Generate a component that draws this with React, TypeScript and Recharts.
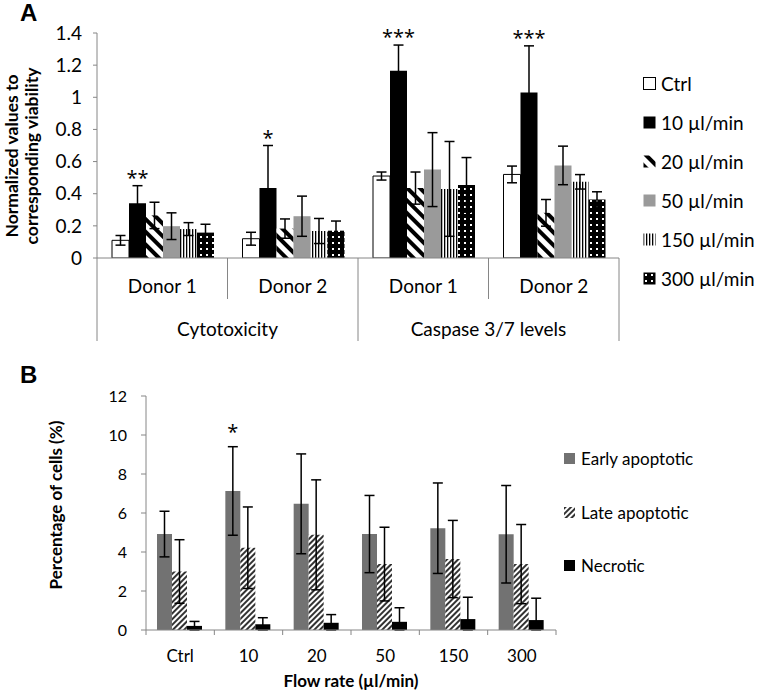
import React from 'react';
import { BarChart, Bar, XAxis, YAxis, ErrorBar, LabelList, Legend } from 'recharts';

// ---------- Panel A data ----------
const categoryKeysA = ['cyto-d1', 'cyto-d2', 'casp-d1', 'casp-d2'];
const donorLabels = ['Donor 1', 'Donor 2', 'Donor 1', 'Donor 2'];
const groupLabels = ['Cytotoxicity', 'Caspase 3/7 levels'];
const ctrlVals = [0.11, 0.12, 0.51, 0.52];
const ctrlErr = [0.03, 0.04, 0.025, 0.052];
const f10Vals = [0.34, 0.435, 1.165, 1.03];
const f10Err = [0.11, 0.265, 0.16, 0.29];
const f20Vals = [0.265, 0.183, 0.435, 0.281];
const f20Err = [0.082, 0.06, 0.1, 0.083];
const f50Vals = [0.198, 0.26, 0.55, 0.576];
const f50Err = [0.083, 0.125, 0.23, 0.12];
const f150Vals = [0.18, 0.168, 0.43, 0.474];
const f150Err = [0.04, 0.078, 0.295, 0.045];
const f300Vals = [0.158, 0.17, 0.455, 0.364];
const f300Err = [0.052, 0.06, 0.17, 0.048];
const sigA = ['**', '*', '***', '***'];
const yTicksA = [0, 0.2, 0.4, 0.6, 0.8, 1, 1.2, 1.4];

// ---------- Panel B data ----------
const flowRates = ['Ctrl', '10', '20', '50', '150', '300'];
const earlyVals = [4.92, 7.13, 6.47, 4.92, 5.22, 4.91];
const earlyErr = [1.17, 2.27, 2.56, 1.98, 2.32, 2.5];
const lateVals = [3.0, 4.22, 4.88, 3.38, 3.64, 3.38];
const lateErr = [1.63, 2.09, 2.82, 1.89, 1.98, 2.03];
const necroticVals = [0.21, 0.3, 0.37, 0.42, 0.56, 0.51];
const necroticErr = [0.23, 0.33, 0.42, 0.72, 1.12, 1.12];
const sigB = ['', '*', '', '', '', ''];
const yTicksB = [0, 2, 4, 6, 8, 10, 12];

// ---------- styles ----------
const FONT = 'Lato, "Open Sans", sans-serif';
const STAR_FONT = '"Open Sans", Lato, sans-serif';
const AXIS = '#868686';

const seriesA = [
  { key: 'ctrl', name: 'Ctrl', fill: '#ffffff', stroke: '#000000' },
  { key: 'f10', name: '10 µl/min', fill: '#000000', stroke: 'none' },
  { key: 'f20', name: '20 µl/min', fill: 'url(#patA20)', stroke: 'none' },
  { key: 'f50', name: '50 µl/min', fill: '#9a9a9a', stroke: 'none' },
  { key: 'f150', name: '150 µl/min', fill: 'url(#patA150)', stroke: 'none' },
  { key: 'f300', name: '300 µl/min', fill: 'url(#patA300)', stroke: 'none' },
];

const seriesB = [
  { key: 'early', name: 'Early apoptotic', fill: '#727272' },
  { key: 'late', name: 'Late apoptotic', fill: 'url(#patLate)' },
  { key: 'necrotic', name: 'Necrotic', fill: '#000000' },
];

// error bar [down, up], the downward part stops at the axis
const errPair = (v: number, e: number) => [Math.min(v, e), e];

const dataA = categoryKeysA.map((k, i) => ({
  key: k,
  ctrl: ctrlVals[i], ctrlErr: errPair(ctrlVals[i], ctrlErr[i]),
  f10: f10Vals[i], f10Err: errPair(f10Vals[i], f10Err[i]),
  f20: f20Vals[i], f20Err: errPair(f20Vals[i], f20Err[i]),
  f50: f50Vals[i], f50Err: errPair(f50Vals[i], f50Err[i]),
  f150: f150Vals[i], f150Err: errPair(f150Vals[i], f150Err[i]),
  f300: f300Vals[i], f300Err: errPair(f300Vals[i], f300Err[i]),
  sig: sigA[i],
}));

const dataB = flowRates.map((r, i) => ({
  rate: r,
  early: earlyVals[i], earlyErr: errPair(earlyVals[i], earlyErr[i]),
  late: lateVals[i], lateErr: errPair(lateVals[i], lateErr[i]),
  necrotic: necroticVals[i], necroticErr: errPair(necroticVals[i], necroticErr[i]),
  sig: sigB[i],
}));

// ---------- helpers ----------
const CategoryTickA = (props: any) => {
  const { x, y, index, width, visibleTicksCount } = props;
  const band = width && visibleTicksCount ? width / visibleTicksCount : 522 / donorLabels.length;
  const half = band / 2;
  const groupEnd = index % 2 === 1;
  return (
    <g>
      {index === 0 && <line x1={x - half} x2={x - half} y1={y} y2={y + 83} stroke={AXIS} strokeWidth={1} />}
      <line x1={x + half} x2={x + half} y1={y} y2={y + (groupEnd ? 83 : 41)} stroke={AXIS} strokeWidth={1} />
      <text x={x} y={y + 27} textAnchor="middle" dominantBaseline="central" fontFamily={FONT} fontSize={19} fill="#000">
        {donorLabels[index]}
      </text>
      {groupEnd && (
        <text x={x - half} y={y + 70} textAnchor="middle" dominantBaseline="central" fontFamily={FONT} fontSize={19} fill="#000">
          {groupLabels[(index - 1) / 2]}
        </text>
      )}
    </g>
  );
};

const CategoryTickB = (props: any) => {
  const { x, y, index, width, visibleTicksCount, payload } = props;
  const band = width && visibleTicksCount ? width / visibleTicksCount : 410 / flowRates.length;
  const half = band / 2;
  const last = index === (visibleTicksCount || flowRates.length) - 1;
  return (
    <g>
      <line x1={x - half} x2={x - half} y1={y} y2={y + 5} stroke={AXIS} />
      {last && <line x1={x + half} x2={x + half} y1={y} y2={y + 5} stroke={AXIS} />}
      <text x={x} y={y + 25} textAnchor="middle" dominantBaseline="central" fontFamily={FONT} fontSize={17} fill="#000">
        {payload.value}
      </text>
    </g>
  );
};

const makeSig = (vals: number[], errs: number[], lift: number) => (props: any) => {
  const vb = props.viewBox && props.viewBox.width !== undefined ? props.viewBox : props;
  const { x, y, width, height } = vb;
  const i = props.index;
  const v = props.value;
  if (!v || i === undefined) return null;
  const perUnit = height / vals[i];
  const top = y - errs[i] * perUnit;
  return (
    <text x={x + width / 2} y={top - lift} textAnchor="middle" fontFamily={STAR_FONT} fontSize={20} fill="#000">
      {v}
    </text>
  );
};

const YLabelA = () => (
  <g fontFamily={FONT} fontSize={17.5} fontWeight="bold" fill="#000">
    <text x={18} y={156} transform="rotate(-90, 18, 156)" textAnchor="middle">Normalized values to</text>
    <text x={38} y={156} transform="rotate(-90, 38, 156)" textAnchor="middle">corresponding viability</text>
  </g>
);

const YLabelB = () => (
  <text x={62} y={145} transform="rotate(-90, 62, 145)" textAnchor="middle"
    fontFamily={FONT} fontSize={17} fontWeight="bold" fill="#000">Percentage of cells (%)</text>
);

const XLabelB = () => (
  <text x={351} y={320} textAnchor="middle" dominantBaseline="central" fontFamily={FONT} fontSize={17} fontWeight="bold" fill="#000">
    Flow rate (µl/min)
  </text>
);

const LegendA = () => (
  <div style={{ fontFamily: FONT, fontSize: 19, color: '#000' }}>
    {seriesA.map((s) => (
      <div key={s.key} style={{ display: 'flex', alignItems: 'center', height: 39 }}>
        <svg width={13} height={13} style={{ marginRight: 5, flex: 'none' }}>
          <rect x={0.5} y={0.5} width={12} height={12} fill={s.fill} stroke={s.key === 'ctrl' ? '#000' : 'none'} />
        </svg>
        <span style={{ whiteSpace: 'nowrap' }}>{s.name}</span>
      </div>
    ))}
  </div>
);

const LegendB = () => (
  <div style={{ fontFamily: FONT, fontSize: 17, color: '#000' }}>
    {seriesB.map((s) => (
      <div key={s.key} style={{ display: 'flex', alignItems: 'center', height: 53.5 }}>
        <svg width={11} height={11} style={{ marginRight: 6, flex: 'none' }}>
          <rect x={0} y={0} width={11} height={11} fill={s.fill} />
        </svg>
        <span style={{ whiteSpace: 'nowrap' }}>{s.name}</span>
      </div>
    ))}
  </div>
);

export default function App() {
  return (
    <div style={{ position: 'absolute', left: 0, top: 0, width: 762, height: 691, background: '#fff', overflow: 'hidden' }}>
      <div style={{ position: 'absolute', left: 20, top: 1, fontFamily: '"Liberation Sans", Arial, sans-serif', fontWeight: 'bold', fontSize: 24, lineHeight: '24px' }}>A</div>
      <div style={{ position: 'absolute', left: 20, top: 363, fontFamily: '"Liberation Sans", Arial, sans-serif', fontWeight: 'bold', fontSize: 24, lineHeight: '24px' }}>B</div>

      <div style={{ position: 'absolute', left: 0, top: 0 }}>
        <BarChart width={762} height={345} data={dataA} margin={{ top: 33, right: 143, bottom: 4, left: 0 }} barCategoryGap={15} barGap={0}>
          <defs>
            <pattern id="patA20" patternUnits="userSpaceOnUse" width={9} height={9} patternTransform="rotate(-45)">
              <rect width={9} height={9} fill="#fff" />
              <rect width={4} height={9} fill="#000" />
            </pattern>
            <pattern id="patA150" patternUnits="userSpaceOnUse" width={3} height={3}>
              <rect width={3} height={3} fill="#fff" />
              <rect width={1.3} height={3} fill="#000" />
            </pattern>
            <pattern id="patA300" patternUnits="userSpaceOnUse" width={6} height={6}>
              <rect width={6} height={6} fill="#000" />
              <rect x={2} y={2} width={2} height={2} fill="#fff" />
            </pattern>
          </defs>
          <XAxis dataKey="key" height={83} interval={0} tickSize={0} tickMargin={0} tickLine={false}
            axisLine={{ stroke: AXIS }} tick={(p: any) => <CategoryTickA {...p} />} />
          <YAxis width={97} domain={[0, 1.4]} ticks={yTicksA} allowDataOverflow interval={0}
            axisLine={{ stroke: AXIS }} tickLine={{ stroke: AXIS }} tickSize={4} tickMargin={11}
            tick={{ fill: '#000', fontSize: 19, fontFamily: FONT }} label={() => <YLabelA />} />
          {seriesA.map((s) => (
            <Bar key={s.key} dataKey={s.key} name={s.name} fill={s.fill} stroke={s.stroke} strokeWidth={1} isAnimationActive={false}>
              <ErrorBar dataKey={s.key + 'Err'} width={5} stroke="#000" strokeWidth={1.5} direction="y" />
              {s.key === 'f10' && <LabelList dataKey="sig" content={makeSig(f10Vals, f10Err, 1)} />}
            </Bar>
          ))}
          <Legend layout="vertical" align="center" verticalAlign="middle" content={() => <LegendA />}
            wrapperStyle={{ left: 643, top: 64, width: 119 }} />
        </BarChart>
      </div>

      <div style={{ position: 'absolute', left: 0, top: 360 }}>
        <BarChart width={762} height={331} data={dataB} margin={{ top: 36, right: 206, bottom: 0, left: 0 }} barCategoryGap={11} barGap={0}>
          <defs>
            <pattern id="patLate" patternUnits="userSpaceOnUse" width={4} height={4} patternTransform="rotate(45)">
              <rect width={4} height={4} fill="#fff" />
              <rect width={2} height={4} fill="#333" />
            </pattern>
          </defs>
          <XAxis dataKey="rate" height={61} interval={0} tickSize={0} tickMargin={0} tickLine={false}
            axisLine={{ stroke: AXIS }} tick={(p: any) => <CategoryTickB {...p} />} label={() => <XLabelB />} />
          <YAxis width={146} domain={[0, 12]} ticks={yTicksB} allowDataOverflow interval={0}
            axisLine={{ stroke: AXIS }} tickLine={{ stroke: AXIS }} tickSize={5} tickMargin={14}
            tick={{ fill: '#000', fontSize: 16, fontFamily: FONT }} label={() => <YLabelB />} />
          {seriesB.map((s) => (
            <Bar key={s.key} dataKey={s.key} name={s.name} fill={s.fill} isAnimationActive={false}>
              <ErrorBar dataKey={s.key + 'Err'} width={5} stroke="#000" strokeWidth={1.5} direction="y" />
              {s.key === 'early' && <LabelList dataKey="sig" content={makeSig(earlyVals, earlyErr, 8)} />}
            </Bar>
          ))}
          <Legend layout="vertical" align="center" verticalAlign="middle" content={() => <LegendB />}
            wrapperStyle={{ left: 564, top: 72, width: 198 }} />
        </BarChart>
      </div>
    </div>
  );
}
